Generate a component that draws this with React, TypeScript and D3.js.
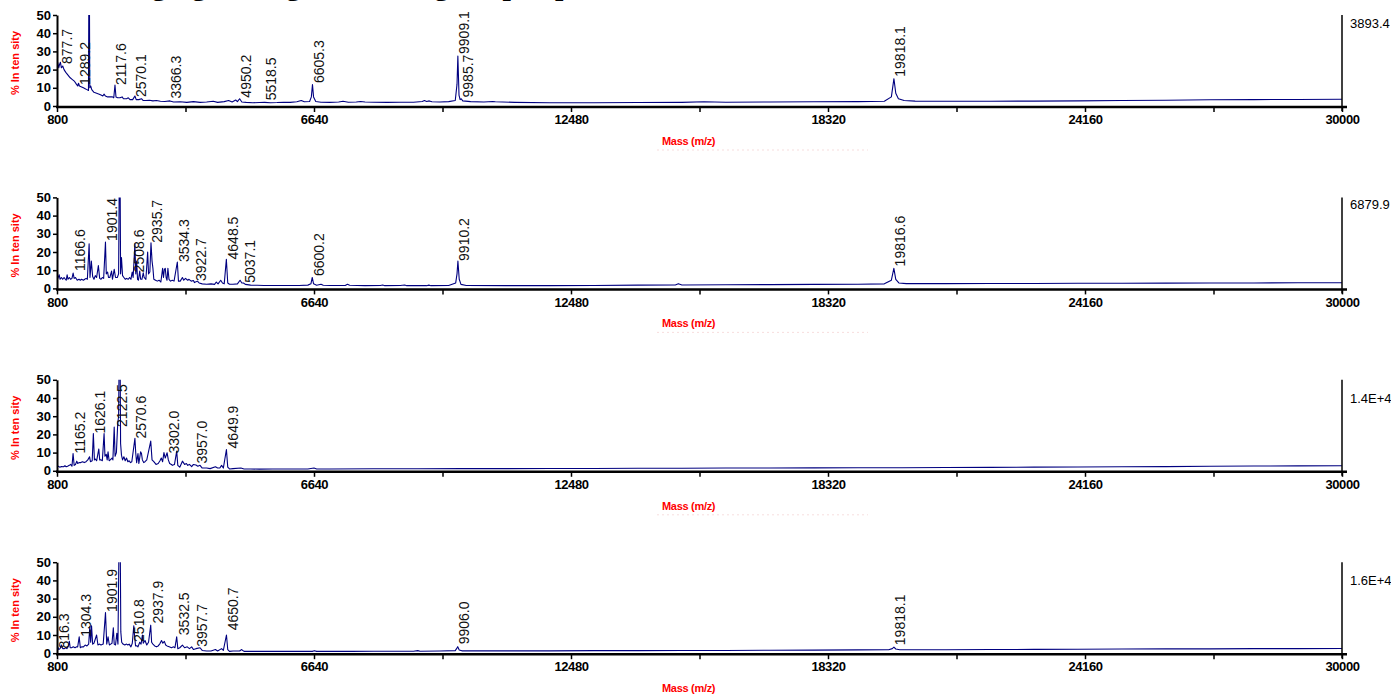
import React, { useEffect, useRef } from "react";
import * as d3 from "d3";

type Pt = [number, number];

// axis ticks
const massTicks = [800, 3720, 6640, 9560, 12480, 15400, 18320, 21240, 24160, 27080, 30000];
const massLabels = [800, 6640, 12480, 18320, 24160, 30000];
const intensityTicks = [0, 10, 20, 30, 40, 50];
const totals = ["3893.4", "6879.9", "1.4E+4", "1.6E+4"];
const titleText = "Aging during cold storage of pea plants, MALDI-TOF";

// spectrum 1: [mass, % intensity]
const spectrum1: Pt[] = [
  [800, 22], [815, 24], [840, 21], [860, 23], [877.7, 24], [900, 21], [930, 22], [960, 20], [1000, 18.5],
  [1050, 17], [1100, 15.5], [1150, 14.5], [1200, 13.5], [1240, 12], [1270, 11], [1289.2, 12.5], [1310, 11],
  [1360, 10.5], [1400, 10], [1440, 9.5], [1480, 9], [1515, 8.5], [1530, 100], [1545, 10], [1565, 11],
  [1590, 9], [1640, 7.5], [1700, 7], [1760, 6.5], [1800, 6], [1840, 5.5], [1870, 6.5], [1900, 5.5],
  [1950, 5], [2000, 5], [2060, 5], [2090, 4.5], [2117.6, 11.5], [2140, 5], [2180, 4.5], [2230, 4.5],
  [2280, 5], [2310, 4], [2380, 4], [2420, 4.5], [2460, 3.5], [2520, 3.5], [2570.1, 5.5], [2600, 3.5],
  [2660, 3.5], [2720, 4], [2760, 3], [2820, 3], [2900, 3.2], [2980, 2.8], [3060, 3], [3150, 2.6],
  [3250, 2.5], [3366.3, 2.8], [3450, 2.2], [3600, 2.3], [3750, 2], [3900, 2.4], [4050, 2], [4200, 2.2],
  [4350, 2.6], [4450, 2], [4600, 2.4], [4700, 3], [4780, 2.2], [4860, 3.3], [4900, 2.4], [4950.2, 4],
  [5000, 2.2], [5100, 2], [5250, 1.8], [5400, 1.9], [5518.5, 2], [5650, 1.8], [5800, 1.9], [5950, 2.1],
  [6100, 2], [6250, 2.3], [6350, 3], [6420, 2.3], [6540, 2.5], [6580, 5], [6605.3, 11.8], [6630, 5],
  [6680, 2.5], [6800, 2.1], [7000, 2], [7200, 2.2], [7300, 2.6], [7420, 2.1], [7600, 2.2], [7700, 2.5],
  [7800, 2.2], [8000, 2.1], [8300, 2], [8600, 2.1], [8900, 2.1], [9100, 2.5], [9150, 3], [9200, 2.5],
  [9260, 2.8], [9320, 2.3], [9500, 2.2], [9700, 2.4], [9850, 3], [9890, 12], [9909.1, 27.5], [9935, 6],
  [9960, 3.5], [9985.7, 4], [10020, 2.8], [10200, 2.4], [10500, 2.2], [10700, 2.5], [10760, 2.3],
  [11200, 2], [12000, 1.8], [13000, 1.8], [14000, 1.9], [15000, 2], [15500, 2.3], [16000, 2.1],
  [17000, 2.2], [18000, 2.3], [19000, 2.4], [19600, 2.6], [19760, 5], [19818.1, 15], [19860, 7],
  [19920, 4], [20050, 3], [20300, 2.7], [21000, 2.6], [22000, 2.6], [23000, 2.7], [24000, 2.8],
  [25000, 3], [26000, 3.2], [27000, 3.4], [28000, 3.5], [29000, 3.6], [30000, 3.7],
];
const labels1: Pt[] = [
  [877.7, 22], [1289.2, 10.5], [2117.6, 10.4], [2570.1, 3.8], [3366.3, 3], [4950.2, 3.5],
  [5518.5, 2], [6605.3, 11.5], [9909.1, 27.5], [9985.7, 3.6], [19818.1, 15],
];

const spectrum2: Pt[] = [
  [800, 6], [820, 5.5], [850, 7.5], [870, 5], [900, 6], [930, 5], [960, 6], [990, 5], [1010, 4.5],
  [1030, 7.5], [1050, 5], [1080, 6], [1110, 5], [1140, 5.5], [1166.6, 8.4], [1190, 5.5], [1220, 6],
  [1260, 4.5], [1300, 5], [1330, 4.5], [1360, 5], [1400, 4.5], [1430, 5], [1460, 5.5], [1490, 5],
  [1530, 24.5], [1550, 6], [1580, 15], [1610, 6.5], [1640, 5], [1670, 7], [1700, 6], [1740, 12.5],
  [1770, 5.5], [1800, 5], [1830, 6], [1860, 5.5], [1901.4, 25.5], [1920, 8], [1950, 9], [1970, 6],
  [2000, 6], [2040, 9.5], [2060, 5], [2100, 10.5], [2130, 6], [2170, 6], [2200, 8], [2226, 100],
  [2245, 8], [2265, 17], [2290, 7], [2320, 6], [2350, 5], [2380, 5.5], [2420, 5], [2450, 6], [2480, 5],
  [2508.6, 9], [2530, 6], [2570, 24.5], [2590, 8], [2610, 15], [2630, 5], [2650, 4.5], [2680, 9.5],
  [2700, 5], [2730, 5], [2760, 8.6], [2780, 6], [2820, 5], [2860, 20], [2880, 8], [2910, 9],
  [2935.7, 25], [2960, 15], [2980, 11], [3000, 5], [3040, 4.5], [3080, 4], [3120, 4.5], [3160, 3.5],
  [3200, 11], [3220, 6], [3240, 10.5], [3260, 11], [3280, 6], [3300, 4.5], [3320, 11], [3345, 5],
  [3380, 4], [3420, 4.5], [3460, 4], [3534.3, 14.5], [3560, 4], [3600, 4], [3650, 6], [3680, 4.5],
  [3720, 5.5], [3770, 4.5], [3800, 5], [3850, 4], [3900, 4.3], [3922.7, 3.2], [3990, 4], [4030, 3],
  [4100, 2.5], [4200, 2.3], [4300, 2.5], [4380, 2.2], [4420, 3.5], [4460, 2.5], [4520, 4.5], [4560, 3],
  [4600, 2.5], [4648.5, 16], [4680, 3], [4720, 2.3], [4800, 2.3], [4900, 2.5], [4960, 4.5], [5000, 3],
  [5037.1, 3], [5080, 2.2], [5200, 1.8], [5350, 1.7], [5500, 1.6], [5700, 1.6], [6000, 1.6],
  [6300, 1.6], [6500, 1.8], [6570, 2.5], [6600.2, 6], [6630, 2.5], [6700, 1.7], [6800, 2.3],
  [6850, 1.7], [7000, 1.6], [7350, 1.6], [7400, 2.3], [7450, 1.7], [7800, 1.5], [8150, 1.6],
  [8200, 1.9], [8250, 1.5], [8600, 1.6], [8700, 1.9], [8750, 1.5], [9200, 1.5], [9250, 1.8],
  [9300, 1.5], [9700, 1.6], [9860, 3], [9890, 8], [9910.2, 15], [9940, 5], [9980, 2.2], [10100, 1.6],
  [11000, 1.5], [12000, 1.5], [13000, 1.6], [14000, 1.8], [14850, 1.9], [14920, 2.6], [15000, 1.9],
  [16000, 2], [17000, 2.1], [18000, 2.2], [19000, 2.3], [19600, 2.5], [19760, 4.5], [19816.6, 11],
  [19860, 5], [19930, 3], [20100, 2.6], [21000, 2.6], [22000, 2.7], [23000, 2.7], [24000, 2.8],
  [25000, 2.8], [26000, 2.9], [27000, 3], [28000, 3], [29000, 3.1], [30000, 3.1],
];
const labels2: Pt[] = [
  [1166.6, 8.4], [1901.4, 25], [2508.6, 7.7], [2935.7, 24], [3534.3, 13.4], [3922.7, 2.9],
  [4648.5, 14.8], [5037.1, 2], [6600.2, 5.7], [9910.2, 14], [19816.6, 11],
];

const spectrum3: Pt[] = [
  [800, 2.2], [830, 2.5], [860, 2], [900, 2.3], [950, 2.2], [980, 2.8], [1010, 2.2], [1040, 2.5],
  [1080, 3], [1110, 3.5], [1140, 2.5], [1165.2, 9.5], [1190, 3], [1220, 3.5], [1250, 5.3], [1270, 4],
  [1300, 4.5], [1340, 4.5], [1380, 5], [1420, 4.5], [1460, 5], [1500, 6], [1540, 7.7], [1560, 5],
  [1600, 5.5], [1626.1, 20.5], [1650, 6], [1670, 6.5], [1700, 5.5], [1750, 12], [1770, 6], [1800, 6],
  [1830, 5.5], [1870, 20.5], [1890, 8], [1920, 9], [1940, 6], [1960, 10.4], [1985, 5.5], [2010, 6],
  [2050, 7], [2070, 6], [2100, 24], [2120, 8], [2150, 10], [2180, 26], [2200, 30], [2226, 100],
  [2245, 15], [2265, 8.6], [2290, 6], [2320, 7.7], [2350, 5.5], [2380, 7], [2410, 5], [2440, 5.5],
  [2470, 4.5], [2500, 5], [2570.6, 17.8], [2590, 9.5], [2610, 4.5], [2640, 9.5], [2660, 4],
  [2700, 10.4], [2720, 9.5], [2740, 6], [2770, 4.5], [2800, 5], [2840, 6], [2930, 16.3], [2960, 6],
  [3000, 5], [3050, 3.5], [3100, 4], [3140, 5.5], [3170, 7], [3200, 5], [3230, 10], [3260, 7],
  [3302.0, 9.9], [3330, 6], [3360, 4], [3400, 3.5], [3420, 3], [3470, 3.5], [3520, 10.8], [3545, 3],
  [3590, 2], [3650, 5.3], [3700, 3.5], [3740, 4], [3770, 3], [3810, 3.5], [3860, 2.3], [3900, 3.5],
  [3957.0, 3.2], [4000, 2.5], [4050, 3], [4100, 1.5], [4200, 1.5], [4280, 1.2], [4400, 2.2],
  [4450, 1.5], [4500, 1.5], [4540, 3], [4580, 1.5], [4649.9, 11.7], [4680, 2], [4720, 1], [4800, 1.2],
  [4980, 1.5], [5050, 1], [5200, 1], [5400, 0.9], [5700, 1], [6000, 1], [6500, 1], [6640, 1.5],
  [6700, 1], [7000, 1], [8000, 1.1], [9000, 1.1], [10000, 1.2], [11000, 1.2], [12000, 1.3],
  [13000, 1.3], [14000, 1.4], [15000, 1.4], [16000, 1.5], [17000, 1.5], [18000, 1.6], [19000, 1.7],
  [20000, 1.7], [21000, 1.8], [22000, 1.9], [23000, 2], [24000, 2.1], [25000, 2.2], [26000, 2.3],
  [27000, 2.5], [28000, 2.6], [29000, 2.7], [30000, 2.8],
];
const labels3: Pt[] = [
  [1165.2, 8.4], [1626.1, 19.4], [2122.5, 23], [2570.6, 16.6], [3302.0, 8.4], [3957.0, 2.9],
  [4649.9, 11.2],
];

const spectrum4: Pt[] = [
  [800, 2], [816.3, 3.5], [840, 2], [870, 2.5], [900, 4.5], [930, 2.5], [970, 2.5], [1000, 3],
  [1025, 2.5], [1060, 4], [1080, 6.6], [1100, 3], [1130, 3], [1170, 3.5], [1210, 3], [1240, 3.5],
  [1270, 3.5], [1304.3, 9], [1330, 3], [1360, 3.5], [1400, 3.5], [1440, 4.5], [1480, 4], [1520, 5],
  [1545, 14.5], [1565, 6], [1585, 15], [1610, 5], [1640, 5.5], [1660, 7], [1700, 10], [1730, 4.5],
  [1760, 5], [1800, 4.5], [1850, 5], [1901.9, 22.3], [1930, 5], [1960, 9], [1990, 4.5], [2020, 5],
  [2050, 5.5], [2080, 14], [2100, 5], [2130, 4.5], [2160, 11], [2185, 5], [2226, 100], [2250, 11.7],
  [2270, 6], [2300, 5], [2340, 4.5], [2380, 5], [2410, 4.5], [2440, 5], [2480, 3.5], [2510.8, 5.5],
  [2545, 15], [2565, 9], [2585, 4], [2620, 4], [2640, 3.5], [2680, 6], [2710, 5], [2740, 10],
  [2760, 5.5], [2800, 7], [2840, 4.5], [2880, 6], [2930, 15.4], [2950, 6], [2980, 5], [3020, 4],
  [3060, 3.5], [3100, 4], [3140, 5.3], [3175, 7], [3205, 5.5], [3240, 6.5], [3270, 4.5], [3300, 4],
  [3350, 3.5], [3400, 3], [3450, 3.5], [3480, 3], [3520, 9], [3545, 2.5], [3590, 3], [3650, 4.4],
  [3700, 3], [3760, 3.5], [3810, 2.5], [3860, 3.5], [3900, 2], [3957.7, 2.5], [4050, 3], [4100, 1.5],
  [4200, 1.2], [4300, 1.2], [4400, 2], [4450, 1.2], [4540, 2.5], [4580, 1.5], [4650.7, 10], [4680, 2],
  [4720, 1], [4800, 1.2], [4950, 1.2], [4990, 2], [5050, 1], [5200, 1], [5500, 1], [6000, 1],
  [6600, 1], [6650, 1.4], [6700, 1], [7000, 1], [7500, 1], [8000, 1.1], [8900, 1.1], [9000, 1.4],
  [9050, 1.1], [9500, 1.2], [9850, 1.4], [9880, 2.5], [9906.0, 3.6], [9940, 1.8], [10000, 1.3],
  [11000, 1.3], [12000, 1.3], [13000, 1.4], [14000, 1.4], [15000, 1.5], [16000, 1.5], [17000, 1.6],
  [18000, 1.7], [19000, 1.8], [19700, 1.9], [19780, 2.5], [19818.1, 3.3], [19860, 2.3], [19950, 1.9],
  [21000, 1.9], [22000, 2], [23000, 2.1], [24000, 2.2], [25000, 2.3], [26000, 2.4], [27000, 2.4],
  [28000, 2.5], [29000, 2.5], [30000, 2.6],
];
const labels4: Pt[] = [
  [816.3, 1.5], [1304.3, 7.9], [1901.9, 21.6], [2510.8, 5.1], [2937.9, 15.2], [3532.5, 8.8],
  [3957.7, 2.4], [4650.7, 11.5], [9906.0, 3.8], [19818.1, 3.3],
];

const spectra = [spectrum1, spectrum2, spectrum3, spectrum4];
const peakLabels = [labels1, labels2, labels3, labels4];

const W = 1391;
const H = 695;
const FONT = "'Liberation Sans', Arial, sans-serif";

const App = () => {
  const svgRef = useRef<SVGSVGElement>(null);

  useEffect(() => {
    const svg = d3.select(svgRef.current);
    svg.selectAll("*").remove();

    svg.append("rect").attr("width", W).attr("height", H).attr("fill", "#fff");

    // cut-off title at the very top (only the descenders show)
    svg.append("text")
      .attr("x", 130)
      .attr("y", -5)
      .attr("font-family", "'Liberation Serif', 'Times New Roman', serif")
      .attr("font-weight", "bold")
      .attr("font-size", 30)
      .text(titleText);

    const x = d3.scaleLinear().domain([800, 30000]).range([57, 1342]);
    const totalOffsets = [8, 7, 18, 18];

    spectra.forEach((pts, i) => {
      const top = 15 + i * 182.4;
      const bottom = top + 91;
      const y = d3.scaleLinear().domain([0, 50]).range([bottom, top]);
      const g = svg.append("g");

      g.append("clipPath").attr("id", `clip-${i}`)
        .append("rect").attr("x", 57).attr("y", top).attr("width", 1290).attr("height", 92);

      const line = d3.line<Pt>().x(d => x(d[0])).y(d => y(d[1]));
      g.append("path")
        .datum(pts)
        .attr("d", line)
        .attr("fill", "none")
        .attr("stroke", "#000080")
        .attr("stroke-width", 1.1)
        .attr("stroke-linejoin", "round")
        .attr("clip-path", `url(#clip-${i})`);

      // peak labels
      g.selectAll(".peak")
        .data(peakLabels[i])
        .enter()
        .append("text")
        .attr("transform", d => `translate(${x(d[0]) + 11.5},${y(d[1]) - 2}) rotate(-90)`)
        .attr("font-family", FONT)
        .attr("font-size", 14)
        .attr("fill", "#111")
        .text(d => d[0].toFixed(1));

      // left axis
      const yAxis = g.append("g")
        .attr("transform", "translate(57,0)")
        .call(d3.axisLeft(y).tickValues(intensityTicks).tickSize(4).tickSizeOuter(0).tickPadding(2));
      yAxis.select(".domain").attr("stroke-width", 2);
      yAxis.selectAll(".tick line").attr("stroke-width", 1.5);
      yAxis.selectAll("text")
        .attr("font-family", FONT)
        .attr("font-weight", "bold")
        .attr("font-size", 13)
        .attr("fill", "#000");

      // bottom axis
      const xAxis = g.append("g")
        .attr("transform", `translate(0,${bottom + 1})`)
        .call(d3.axisBottom(x).tickValues(massTicks).tickSize(5).tickSizeOuter(0)
          .tickFormat(d => (massLabels.includes(+d) ? String(d) : "")));
      xAxis.select(".domain").remove();
      xAxis.selectAll(".tick line").attr("stroke-width", 1.5);
      xAxis.selectAll("text")
        .attr("font-family", FONT)
        .attr("font-weight", "bold")
        .attr("font-size", 13)
        .attr("letter-spacing", -0.4)
        .attr("fill", "#000");
      g.append("line")
        .attr("x1", 56).attr("x2", 1347)
        .attr("y1", bottom + 1).attr("y2", bottom + 1)
        .attr("stroke", "#000").attr("stroke-width", 2.5);

      // right axis + total count
      g.append("line")
        .attr("x1", x(30000)).attr("x2", x(30000))
        .attr("y1", top).attr("y2", bottom + 5)
        .attr("stroke", "#000").attr("stroke-width", 1.5);
      g.append("text")
        .attr("x", 1350)
        .attr("y", top + totalOffsets[i] + 5)
        .attr("font-family", FONT)
        .attr("font-size", 13)
        .attr("fill", "#000")
        .text(totals[i]);

      // axis titles
      g.append("text")
        .attr("transform", `translate(19,${top + 48}) rotate(-90)`)
        .attr("text-anchor", "middle")
        .attr("font-family", FONT)
        .attr("font-weight", "bold")
        .attr("font-size", 11)
        .attr("fill", "#ff0000")
        .text("% In ten sity");
      g.append("text")
        .attr("x", 662)
        .attr("y", bottom + 39)
        .attr("font-family", FONT)
        .attr("font-weight", "bold")
        .attr("font-size", 11)
        .attr("letter-spacing", -0.3)
        .attr("fill", "#ff0000")
        .text("Mass (m/z)");
      g.append("line")
        .attr("x1", 657).attr("x2", 868)
        .attr("y1", bottom + 44).attr("y2", bottom + 44)
        .attr("stroke", "#f3c9c9").attr("stroke-width", 1)
        .attr("stroke-dasharray", "2,3")
        .attr("opacity", 0.6);
    });
  }, []);

  return (
    <svg ref={svgRef} width={W} height={H} style={{ position: "absolute", left: 0, top: 0 }} />
  );
};

export default App;
